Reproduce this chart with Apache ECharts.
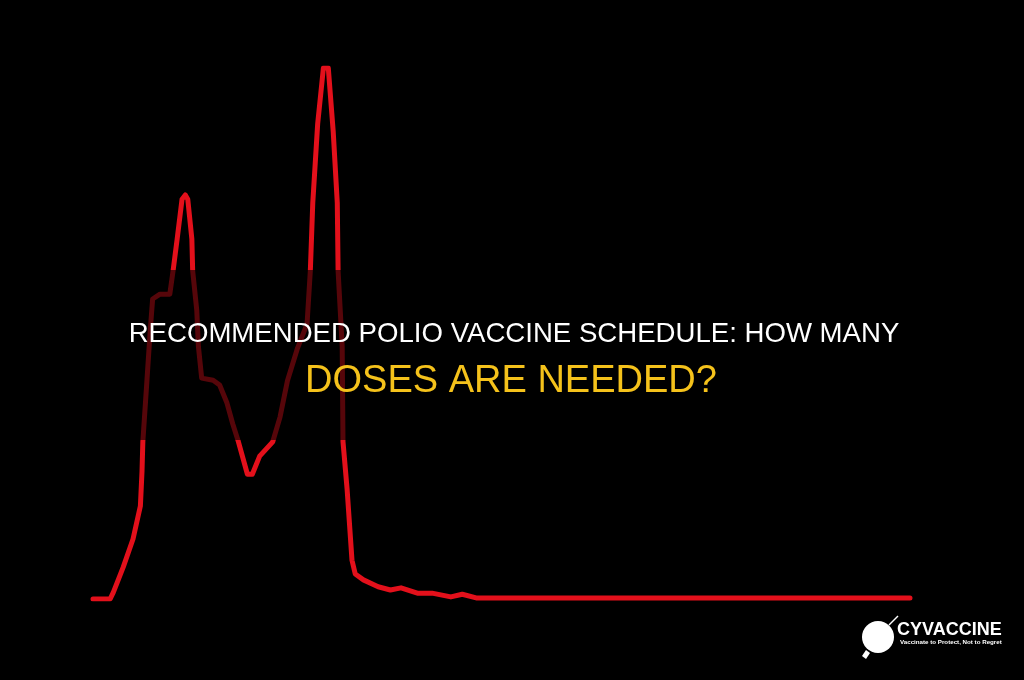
<!DOCTYPE html>
<html>
<head>
<meta charset="utf-8">
<script src="https://cdn.jsdelivr.net/npm/echarts@6/dist/echarts.min.js"></script>
<style>
html,body{margin:0;padding:0;background:#000;}
#chart{width:1024px;height:680px;}
</style>
</head>
<body>
<div id="chart"></div>
<script>
// x positions (arbitrary 0-100 time scale) and relative level (0-100)
const xValues = [0,2.1,2.5,3.7,4.9,5.8,6.0,6.1,6.6,7.0,7.3,8.2,9.4,9.8,10.3,10.9,11.3,11.6,12.1,12.2,12.7,12.9,13.3,14.7,15.5,16.4,17.1,17.8,18.9,19.5,20.4,22.0,22.9,23.8,25.0,26.2,26.6,26.9,27.5,28.2,28.8,29.4,29.9,30.0,30.5,30.6,31.1,31.7,32.1,33.1,34.9,36.4,37.7,39.7,41.5,43.8,45.2,46.9,60,75,90,100];
const yValues = [0,0,1.3,6.0,11.3,17.5,24.1,29.6,41.1,50.5,56.5,57.4,57.4,61.8,67.8,75.3,76.1,75.3,67.8,61.8,54.4,47.6,41.6,41.2,40.3,36.9,33.0,29.6,23.5,23.5,26.9,29.6,34.3,41.1,47.1,51.8,61.8,74.6,89.5,100,100,88.1,74.6,61.8,47.6,29.6,20.7,7.3,4.7,3.6,2.3,1.7,2.1,1.1,1.1,0.4,0.9,0.2,0.2,0.2,0.2,0.2];
const titleLine1 = "RECOMMENDED POLIO VACCINE SCHEDULE: HOW MANY";
const titleLine2 = "DOSES ARE NEEDED?";
const brandName = "CYVACCINE";
const brandTagline = "Vaccinate to Protect, Not to Regret";

const seriesData = xValues.map((x, i) => [x, yValues[i]]);

const chart = echarts.init(document.getElementById('chart'), null, {renderer: 'canvas'});
chart.setOption({
  backgroundColor: '#000000',
  animation: false,
  grid: {left: 93, right: 114, top: 68, bottom: 81},
  xAxis: {type: 'value', min: 0, max: 100, show: false},
  yAxis: {type: 'value', min: 0, max: 100, show: false},
  series: [{
    type: 'line',
    data: seriesData,
    symbol: 'none',
    smooth: false,
    lineStyle: {color: '#e3101b', width: 5, join: 'round', cap: 'round'},
    z: 2
  }],
  graphic: [
    {type: 'rect', left: 0, top: 270, z: 100, shape: {width: 1024, height: 170}, style: {fill: 'rgba(0,0,0,0.62)'}},
    {type: 'text', x: 514, y: 334, z: 101, style: {text: titleLine1, fill: '#ffffff', font: '27.6px "Liberation Sans", Arial, sans-serif', textAlign: 'center', textVerticalAlign: 'middle'}},
    {type: 'text', x: 511, y: 382, z: 101, style: {text: titleLine2, fill: '#f5c21b', font: '38px "Liberation Sans", Arial, sans-serif', textAlign: 'center', textVerticalAlign: 'middle'}},
    {type: 'circle', z: 101, shape: {cx: 878, cy: 637, r: 16}, style: {fill: '#ffffff'}},
    {type: 'line', z: 101, shape: {x1: 889, y1: 625, x2: 898, y2: 616}, style: {stroke: '#ffffff', lineWidth: 1.5}},
    {type: 'polygon', z: 101, shape: {points: [[866,650],[870,653],[866,659],[862,656]]}, style: {fill: '#ffffff'}},
    {type: 'text', x: 897, y: 630, z: 101, style: {text: brandName, fill: '#ffffff', font: 'bold 18px "Liberation Sans", Arial, sans-serif', textAlign: 'left', textVerticalAlign: 'middle'}},
    {type: 'text', x: 900, y: 642, z: 101, style: {text: brandTagline, fill: '#ffffff', font: 'bold 6.2px "Liberation Sans", Arial, sans-serif', textAlign: 'left', textVerticalAlign: 'middle'}}
  ]
});
</script>
</body>
</html>
